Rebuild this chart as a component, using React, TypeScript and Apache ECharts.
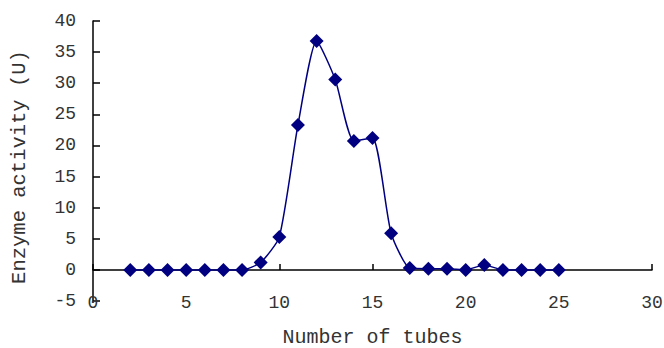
import React, { useEffect, useRef } from "react";
import * as echarts from "echarts";

const tubes = [2, 3, 4, 5, 6, 7, 8, 9, 10, 11, 12, 13, 14, 15, 16, 17, 18, 19, 20, 21, 22, 23, 24, 25];
const activity = [0, 0, 0, 0, 0, 0, 0, 1.2, 5.3, 23.3, 36.8, 30.6, 20.7, 21.2, 5.9, 0.3, 0.2, 0.2, 0, 0.8, 0, 0, 0, 0];
const xTitle = "Number of tubes";
const yTitle = "Enzyme activity (U)";

const FONT = "Liberation Mono";
const INK = "#000000";
const NAVY = "#000080";

export default function App() {
  const ref = useRef<HTMLDivElement>(null);
  useEffect(() => {
    if (!ref.current) return;
    const chart = echarts.init(ref.current, null, { renderer: "svg" });
    chart.setOption({
      animation: false,
      backgroundColor: "#ffffff",
      grid: { left: 93, right: 12, top: 21, bottom: 47, containLabel: false, outerBoundsMode: "none" },
      xAxis: [
        {
          type: "value",
          min: 0,
          max: 30,
          interval: 5,
          position: "bottom",
          axisLine: { show: false, onZero: false },
          axisTick: { show: false },
          splitLine: { show: false },
          axisLabel: { color: "#333", fontFamily: FONT, fontSize: 18, margin: 2, verticalAlign: "middle" },
          name: xTitle,
          nameLocation: "middle",
          nameGap: 26,
          nameTextStyle: { color: "#333", fontFamily: FONT, fontSize: 20, lineHeight: 20 },
        },
        {
          type: "value",
          min: 0,
          max: 30,
          interval: 5,
          position: "bottom",
          axisLine: { show: true, onZero: true, onZeroAxisIndex: 0, lineStyle: { color: INK, width: 1.5 } },
          axisTick: { show: true, inside: true, length: 6, lineStyle: { color: INK, width: 1.5 } },
          axisLabel: { show: false },
          splitLine: { show: false },
        },
      ],
      yAxis: {
        type: "value",
        min: -5,
        max: 40,
        interval: 5,
        axisLine: { show: true, onZero: false, lineStyle: { color: INK, width: 1.5 } },
        axisTick: { show: true, inside: true, length: 7, lineStyle: { color: INK, width: 1.5 } },
        splitLine: { show: false },
        axisLabel: { color: "#333", fontFamily: FONT, fontSize: 18, margin: 17 },
        name: yTitle,
        nameLocation: "middle",
        nameGap: 63,
        nameTextStyle: { color: "#333", fontFamily: FONT, fontSize: 20.5, padding: [0, 12, 0, 0] },
      },
      series: [
        {
          type: "line",
          xAxisIndex: 0,
          data: tubes.map((t, i) => [t, activity[i]]),
          smooth: 0.2,
          symbol: "diamond",
          symbolSize: 14,
          lineStyle: { color: NAVY, width: 1.5 },
          itemStyle: { color: NAVY },
        },
      ],
    });
    return () => chart.dispose();
  }, []);
  return (
    <div
      ref={ref}
      style={{ position: "fixed", left: 0, top: 0, width: 664, height: 348, background: "#fff" }}
    />
  );
}
